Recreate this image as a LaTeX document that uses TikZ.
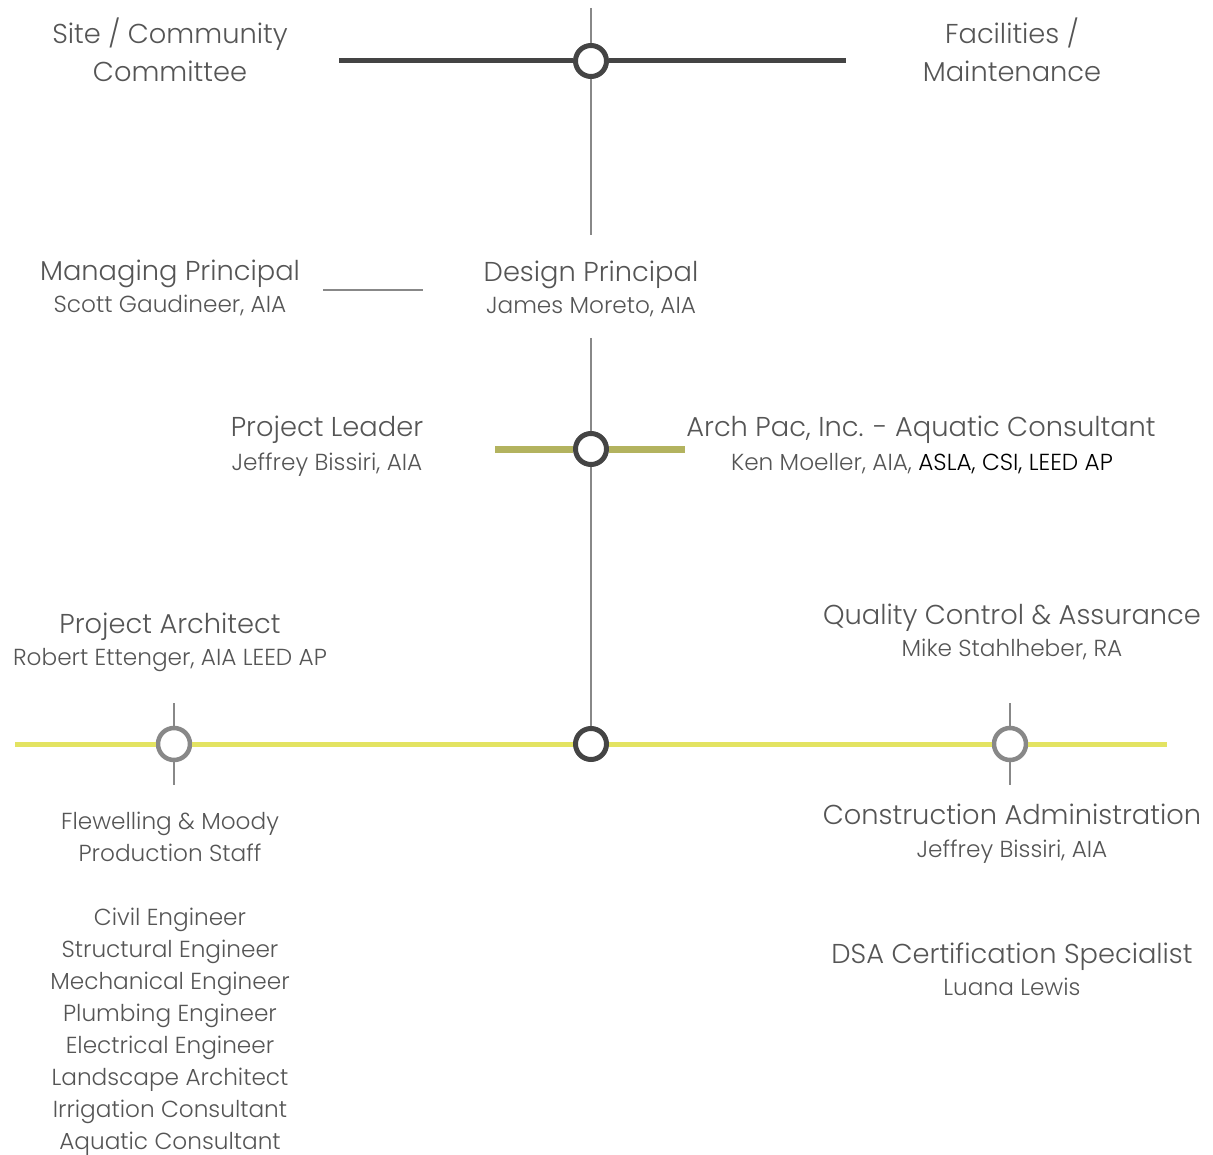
\documentclass[tikz,border=0pt]{standalone}
\usepackage{fontspec}
\setmainfont{Poppins Light}
\definecolor{txt}{HTML}{555555}
\definecolor{dark}{HTML}{444444}
\definecolor{midgray}{HTML}{888888}
\definecolor{olive}{HTML}{B3B35F}
\definecolor{lemon}{HTML}{E3E362}
\begin{document}
\begin{tikzpicture}[x=1pt,y=-1pt,
  title/.style={font=\fontsize{27.3}{38}\selectfont, text=txt, anchor=base, inner sep=0pt, align=center},
  sub/.style={font=\fontsize{23.2}{32}\selectfont, text=txt, anchor=base, inner sep=0pt, align=center},
  hub/.style={circle, draw=dark, line width=5pt, fill=white, minimum size=31pt, inner sep=0pt},
  ghub/.style={circle, draw=midgray, line width=4.5pt, fill=white, minimum size=32pt, inner sep=0pt},
  grayline/.style={draw=midgray, line width=2.5pt},
]
\useasboundingbox (0,0) rectangle (1213,1155);
% coordinates
\coordinate (topT) at (591,8);
\coordinate (topB) at (591,235);
\coordinate (topL) at (339,61);
\coordinate (topR) at (846,61);
\coordinate (mpL) at (323,290);
\coordinate (mpR) at (423,290);
\coordinate (vT) at (591,338);
\coordinate (olL) at (495,449);
\coordinate (olR) at (685,449);
\coordinate (yL) at (15,744);
\coordinate (yR) at (1167,744);
\coordinate (t1T) at (174,703);
\coordinate (t1B) at (174,785);
\coordinate (t2T) at (1010,703);
\coordinate (t2B) at (1010,785);
% hubs
\node[hub] (h1) at (591,61) {};
\node[hub] (h2) at (591,449) {};
\node[hub] (h3) at (591,744) {};
\node[ghub] (g1) at (174,744) {};
\node[ghub] (g2) at (1010,744) {};
% lines
\begin{scope}[on background layer/.style={}]
\end{scope}
\draw[grayline] (topT) -- (h1.north);
\draw[grayline] (h1.south) -- (topB);
\draw[dark, line width=5pt] (topL) -- (h1.west);
\draw[dark, line width=5pt] (h1.east) -- (topR);
\draw[grayline] (mpL) -- (mpR);
\draw[grayline] (vT) -- (h2.north);
\draw[grayline] (h2.south) -- (h3.north);
\draw[olive, line width=7pt] (olL) -- (h2.west);
\draw[olive, line width=7pt] (h2.east) -- (olR);
\draw[lemon, line width=5pt] (yL) -- (g1.west);
\draw[lemon, line width=5pt] (g1.east) -- (h3.west);
\draw[lemon, line width=5pt] (h3.east) -- (g2.west);
\draw[lemon, line width=5pt] (g2.east) -- (yR);
\draw[grayline] (t1T) -- (g1.north);
\draw[grayline] (g1.south) -- (t1B);
\draw[grayline] (t2T) -- (g2.north);
\draw[grayline] (g2.south) -- (t2B);
% texts
\node[title] (site) at (170,82) {Site / Community\\Committee};
\node[title] (fac) at (1012,82) {Facilities /\\Maintenance};
\node[title] (mp) at (170,281) {Managing Principal};
\node[sub] (mpn) at (170,313) {Scott Gaudineer, AIA};
\node[title] (dp) at (591,282) {Design Principal};
\node[sub] (dpn) at (591,314) {James Moreto, AIA};
\node[title] (pl) at (327,437) {Project Leader};
\node[sub] (pln) at (327,470) {Jeffrey Bissiri, AIA};
\node[title] (ap) at (921,437) {Arch Pac, Inc. - Aquatic Consultant};
\node[sub] (apn) at (922,470) {Ken Moeller, AIA, \textcolor{black}{ASLA, CSI, LEED AP}};
\node[title] (pa) at (170,633) {Project Architect};
\node[sub] (pan) at (170,665) {Robert Ettenger, AIA LEED AP};
\node[title] (qc) at (1012,624) {Quality Control \& Assurance};
\node[sub] (qcn) at (1012,656) {Mike Stahlheber, RA};
\node[sub] (fm) at (170,861) {Flewelling \& Moody\\Production Staff};
\node[sub] (list) at (170,1149) {Civil Engineer\\Structural Engineer\\Mechanical Engineer\\Plumbing Engineer\\Electrical Engineer\\Landscape Architect\\Irrigation Consultant\\Aquatic Consultant};
\node[title] (ca) at (1012,824) {Construction Administration};
\node[sub] (can) at (1012,857) {Jeffrey Bissiri, AIA};
\node[title] (dsa) at (1012,963) {DSA Certification Specialist};
\node[sub] (dsan) at (1012,995) {Luana Lewis};
\end{tikzpicture}
\end{document}
